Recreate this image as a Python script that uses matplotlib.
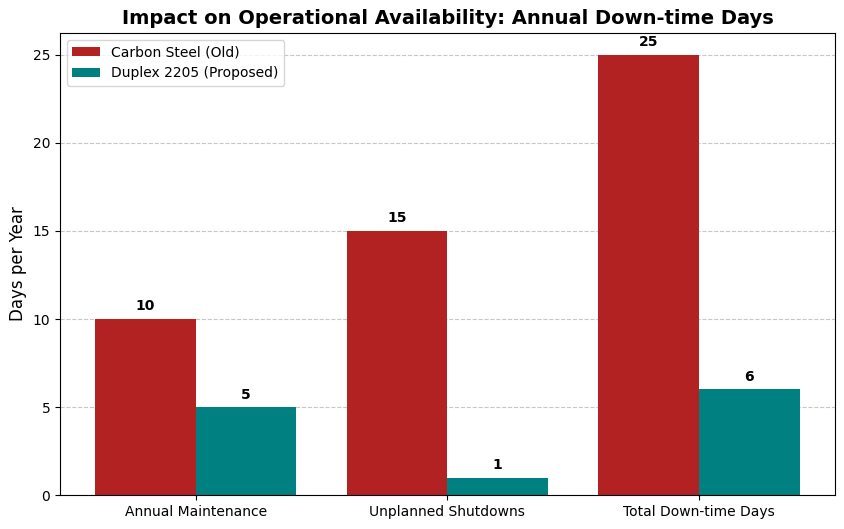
import numpy as np
import matplotlib
matplotlib.use("Agg")
import matplotlib.pyplot as plt

# Data
categories = ['Annual Maintenance', 'Unplanned Shutdowns', 'Total Down-time Days']
carbon_steel = [10, 15, 25]
duplex = [5, 1, 6]

x = np.arange(len(categories))
width = 0.4

fig, ax = plt.subplots(figsize=(8.45, 5.29), dpi=100)
bars1 = ax.bar(x - width / 2, carbon_steel, width, label='Carbon Steel (Old)', color='firebrick')
bars2 = ax.bar(x + width / 2, duplex, width, label='Duplex 2205 (Proposed)', color='teal')

# Value labels on top of bars
for bars in (bars1, bars2):
    for b in bars:
        h = b.get_height()
        ax.annotate(f'{h:g}', xy=(b.get_x() + b.get_width() / 2, h),
                    xytext=(0, 4), textcoords='offset points',
                    ha='center', va='bottom', fontweight='bold')

ax.set_title('Impact on Operational Availability: Annual Down-time Days', fontsize=14, fontweight='bold')
ax.set_ylabel('Days per Year', fontsize=12)
ax.set_xticks(x)
ax.set_xticklabels(categories)
ax.legend(loc='upper left')
ax.grid(axis='y', linestyle='--', alpha=0.7)
ax.set_axisbelow(True)

plt.subplots_adjust(left=0.071, right=0.988, top=0.938, bottom=0.064)
plt.savefig('out.png')
